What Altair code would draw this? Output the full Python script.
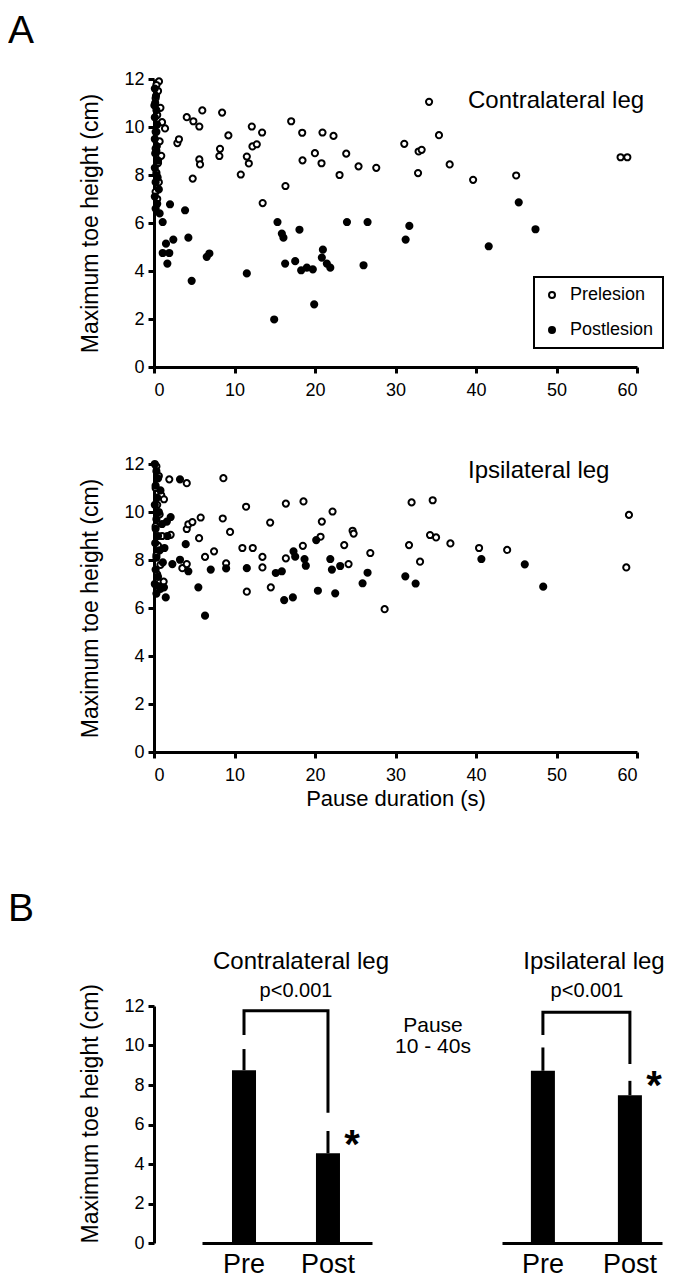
import altair as alt
import pandas as pd

FONT = "Liberation Sans"

# ---------------- Panel A: contralateral leg ----------------
ca_pre_x = [0.62, 0.3, 0.5, 0.2, 0.8, 0.4, 1.0, 0.3, 0.7, 0.2, 0.9, 0.5, 0.3, 0.6, 0.2, 0.4,
            1.37, 2.9, 3.1, 4.07, 4.89, 5.63, 6.0, 8.46, 9.24, 8.2, 8.12, 5.63, 5.72, 4.81,
            10.78, 11.53, 11.78, 12.15, 13.43, 12.23, 12.77, 17.04, 18.41, 20.93, 22.3, 18.45,
            19.99, 20.81, 16.33, 23.05, 13.5, 34.17, 23.88, 25.41, 27.61, 31.09, 32.87, 33.25,
            35.4, 32.8, 36.73, 39.64, 44.99, 57.96, 58.8]
ca_pre_y = [11.9, 11.75, 11.5, 11.2, 10.8, 10.5, 10.2, 9.8, 9.4, 9.1, 8.8, 8.5, 8.1, 7.7, 7.3, 7.0,
            9.94, 9.33, 9.49, 10.41, 10.24, 10.02, 10.69, 10.6, 9.65, 9.09, 8.79, 8.65, 8.44, 7.85,
            8.02, 8.77, 8.48, 10.02, 9.77, 9.19, 9.28, 10.24, 9.76, 9.77, 9.63, 8.61,
            8.91, 8.49, 7.54, 8.0, 6.83, 11.05, 8.89, 8.36, 8.3, 9.3, 8.98, 9.05,
            9.66, 8.08, 8.44, 7.8, 7.98, 8.74, 8.74]
ca_post_x = [0.1, 0.25, 0.15, 0.3, 0.1, 0.4, 0.2, 0.1, 0.35, 0.15, 0.5, 0.1, 0.3, 0.2, 0.6, 0.1,
             0.4, 0.2, 0.7, 0.05, 0.45, 0.3,
             1.99, 3.86, 1.08, 2.4, 1.49, 1.08, 1.9, 1.66, 4.27, 6.55, 6.88, 4.68, 11.53, 15.34,
             15.88, 16.08, 18.07, 16.29, 17.54, 18.28, 18.99, 19.73, 20.98, 20.85, 21.47, 21.9,
             14.93, 19.9, 23.97, 26.53, 31.72, 31.26, 41.58, 45.31, 47.39, 26.03]
ca_post_y = [11.6, 11.3, 11.0, 10.7, 10.4, 10.1, 9.8, 9.5, 9.2, 8.9, 8.6, 8.3, 8.0, 7.7, 7.4, 7.1,
             6.8, 6.6, 6.4, 10.9, 7.9, 9.0,
             6.78, 6.53, 6.04, 5.31, 5.14, 4.75, 4.75, 4.31, 5.39, 4.59, 4.73, 3.59, 3.9, 6.04,
             5.56, 5.39, 5.72, 4.31, 4.41, 4.03, 4.14, 4.07, 4.89, 4.56, 4.31, 4.14,
             1.98, 2.61, 6.04, 6.04, 5.88, 5.31, 5.03, 6.86, 5.74, 4.24]

# ---------------- Panel A: ipsilateral leg ----------------
ia_pre_x = [0.3, 0.6, 0.2, 0.9, 0.4, 0.7, 0.2, 1.0, 0.5, 0.3, 0.8, 0.4, 1.2, 1.24, 1.9,
            4.07, 8.62, 11.44, 16.38, 18.57, 22.18, 2.07, 4.07, 4.27, 4.77, 5.8, 8.54, 9.45,
            5.6, 14.43, 20.85, 18.49, 20.69, 7.46, 6.34, 10.98, 12.27, 13.47, 8.96, 16.38,
            3.52, 4.07, 13.47, 11.53, 14.51, 32.0, 34.62, 24.67, 24.8, 23.63, 26.87, 24.17,
            31.68, 34.29, 35.04, 36.82, 40.38, 43.87, 33.05, 28.65, 59.0, 58.67]
ia_pre_y = [11.9, 11.5, 11.0, 10.7, 10.3, 9.9, 9.4, 9.0, 8.6, 8.2, 7.8, 7.4, 7.1, 10.53, 11.36,
            11.2, 11.41, 10.22, 10.35, 10.44, 10.02, 9.05, 9.29, 9.49, 9.58, 9.77, 9.73, 9.17,
            8.91, 9.56, 9.6, 8.59, 8.97, 8.36, 8.13, 8.5, 8.5, 8.13, 7.86, 8.07,
            7.66, 7.83, 7.69, 6.68, 6.86, 10.4, 10.49, 9.22, 9.1, 8.62, 8.29, 7.83,
            8.62, 9.04, 8.94, 8.69, 8.5, 8.42, 7.93, 5.95, 9.88, 7.69]
ia_post_x = [0.1, 0.3, 0.5, 0.2, 0.8, 0.4, 0.1, 0.6, 0.3, 1.0, 0.2, 0.5, 0.15, 0.7, 0.3, 1.1,
             0.2, 0.5, 0.1, 0.8, 0.3, 0.6, 1.3, 1.6,
             3.23, 2.07, 1.66, 3.94, 3.23, 2.28, 4.27, 7.05, 8.96, 11.53, 15.13, 15.88, 17.33,
             17.54, 18.7, 18.86, 20.15, 21.9, 22.1, 23.13, 22.51, 20.36, 26.53, 25.91, 31.22,
             32.5, 40.67, 46.06, 48.35, 5.51, 1.24, 1.46, 6.34, 16.17, 17.25]
ia_post_y = [12.0, 11.7, 11.4, 11.1, 10.9, 10.6, 10.3, 10.0, 9.7, 9.5, 9.3, 9.0, 8.7, 8.4, 8.1, 7.9,
             7.6, 7.3, 7.0, 6.8, 6.6, 6.9, 8.5, 9.6,
             11.36, 9.79, 9.0, 8.66, 8.01, 7.83, 7.53, 7.6, 7.65, 7.66, 7.46, 7.53, 8.36,
             8.14, 8.04, 7.76, 8.83, 8.04, 7.6, 7.75, 6.61, 6.72, 7.47, 7.03, 7.32,
             7.02, 8.04, 7.82, 6.89, 6.86, 6.86, 6.44, 5.68, 6.33, 6.44]

# ---------------- Panel B: pause 10 - 40 s ----------------
conds = ["Pre", "Post"]
c_mean = [8.75, 4.54]
c_err = [1.07, 1.13]
i_mean = [8.72, 7.48]
i_err = [1.18, 0.73]
c_bracket = [11.76, 10.53, 6.6]   # top, end of Pre leg, end of Post leg
i_bracket = [11.68, 10.53, 9.06]
c_star = 5.42
i_star = 8.38

x_ticks = [0, 10, 20, 30, 40, 50, 60]
y_ticks = [0, 2, 4, 6, 8, 10, 12]
groups = ["Prelesion", "Postlesion"]
y_title = "Maximum toe height (cm)"


def label(text, x, y, size, align="left", baseline="alphabetic", weight="normal"):
    return alt.Chart(pd.DataFrame({"t": [text]})).mark_text(
        align=align, baseline=baseline, fontSize=size, font=FONT,
        fontWeight=weight, color="black"
    ).encode(text="t:N", x=alt.value(x), y=alt.value(y))


def vspacer(x, y1, y2):
    return alt.Chart(pd.DataFrame({"s": [0]})).mark_rule(opacity=0, strokeWidth=1).encode(
        x=alt.value(x), y=alt.value(y1), y2=alt.value(y2))


def hspacer(x1, x2, y):
    return alt.Chart(pd.DataFrame({"s": [0]})).mark_rule(opacity=0, strokeWidth=1).encode(
        x=alt.value(x1), x2=alt.value(x2), y=alt.value(y))


def scatter(pre_x, pre_y, post_x, post_y, leg_name, text_y, with_legend, x_title, top, bottom):
    assert len(pre_x) == len(pre_y) and len(post_x) == len(post_y)
    df = pd.DataFrame({
        "pause": pre_x + post_x,
        "height": pre_y + post_y,
        "group": [groups[0]] * len(pre_x) + [groups[1]] * len(post_x),
    })
    if x_title:
        xaxis = alt.Axis(values=x_ticks, title=x_title, titlePadding=4)
    else:
        xaxis = alt.Axis(values=x_ticks, title=None)
    if with_legend:
        leg = alt.Legend(title=None, orient="none", legendX=380, legendY=198,
                         strokeColor="black", padding=9, labelFontSize=18, labelFont=FONT,
                         labelColor="black", symbolSize=36, symbolStrokeColor="black",
                         symbolStrokeWidth=2, symbolType="circle", rowPadding=17,
                         labelOffset=9)
    else:
        leg = None
    pts = alt.Chart(df).mark_point(
        filled=True, size=38, stroke="black", strokeWidth=2, opacity=1
    ).encode(
        x=alt.X("pause:Q", scale=alt.Scale(domain=[0, 60], nice=False), axis=xaxis),
        y=alt.Y("height:Q", scale=alt.Scale(domain=[0, 12], nice=False),
                axis=alt.Axis(values=y_ticks, title=y_title, titlePadding=21)),
        fill=alt.Fill("group:N", scale=alt.Scale(domain=groups, range=["white", "black"]),
                      legend=leg),
    )
    layers = [pts, label(leg_name, 314, text_y, 24), vspacer(-146, top, bottom)]
    return layers


top_layers = scatter(ca_pre_x, ca_pre_y, ca_post_x, ca_post_y, "Contralateral leg", 29,
                     True, None, -71, 339)
top_layers.append(label("A", -146, -67, 39, baseline="top"))
top_panel = alt.layer(*top_layers).properties(width=483, height=288)

bottom_layers = scatter(ia_pre_x, ia_pre_y, ia_post_x, ia_post_y, "Ipsilateral leg", 14,
                        False, "Pause duration (s)", -46, 412)
bottom_panel = alt.layer(*bottom_layers).properties(width=483, height=288)


def bars(mean, err, bracket, star_y, name, p_x, name_x, width, pin, pout, palign,
         left_axis, dash):
    df = pd.DataFrame({"cond": conds, "val": mean,
                       "top": [m + e for m, e in zip(mean, err)]})
    xenc = alt.X("cond:N", sort=conds,
                 scale=alt.Scale(paddingInner=pin, paddingOuter=pout, align=palign),
                 axis=alt.Axis(title=None, labelAngle=0, ticks=False, labelFontSize=27,
                               labelPadding=8, domainDash=dash))
    if left_axis:
        yax = alt.Axis(values=y_ticks, title=y_title, titlePadding=21, titleAnchor="start")
    else:
        yax = None
    yenc = alt.Y("val:Q", scale=alt.Scale(domain=[0, 12], nice=False), axis=yax)
    errs = alt.Chart(df).mark_rule(color="black", strokeWidth=3).encode(
        x=xenc, y=yenc, y2="top:Q")
    bar = alt.Chart(df).mark_bar(color="black").encode(x=xenc, y=yenc)
    bdf = pd.DataFrame({"cond": ["Pre", "Pre", "Post", "Post"],
                        "val": [bracket[1], bracket[0], bracket[0], bracket[2]],
                        "i": [0, 1, 2, 3]})
    brk = alt.Chart(bdf).mark_line(color="black", strokeWidth=3, strokeJoin="miter",
                                   strokeCap="butt").encode(x=xenc, y=yenc, order="i:Q")
    sdf = pd.DataFrame({"cond": ["Post"], "val": [star_y], "t": ["*"]})
    star = alt.Chart(sdf).mark_text(fontSize=40, fontWeight="bold", font=FONT, color="black",
                                    dx=24, dy=22, baseline="alphabetic").encode(
        x=xenc, y=yenc, text="t:N")
    layers = [errs, bar, brk, star,
              label(name, name_x, -37, 24, align="center"),
              label("p<0.001", p_x, -9, 20, align="center")]
    return layers


# contralateral panel: plot starts at the y axis; the baseline is drawn from 48 px on
c_layers = bars(c_mean, c_err, c_bracket, c_star, "Contralateral leg", 142, 147, 218,
                0.714, 0.655, 0.709, True, [0, 48, 170, 400])
c_layers += [label("B", -146, -116, 39, baseline="top"),
             label("Pause", 279, 26, 21, align="center"),
             label("10 - 40s", 279, 47, 21, align="center"),
             vspacer(-146, -130, 270), hspacer(-146, 330, -130)]
bar_c = alt.layer(*c_layers).properties(width=218, height=237)

i_layers = bars(i_mean, i_err, i_bracket, i_star, "Ipsilateral leg", 85, 92, 160,
                0.724, 0.2816, 0.59, False, [400, 0])
i_layers += [vspacer(-18, -130, 265)]
bar_i = alt.layer(*i_layers).properties(width=160, height=237)

row_b = alt.hconcat(bar_c, bar_i, spacing=0)

chart = alt.vconcat(top_panel, bottom_panel, row_b, spacing=0).properties(
    padding=0
).configure_view(stroke=None).configure_axis(
    grid=False, domainColor="black", domainWidth=3, tickColor="black", tickWidth=3,
    tickSize=6, labelColor="black", labelFont=FONT, labelFontSize=18, labelPadding=4,
    titleColor="black", titleFont=FONT, titleFontSize=23, titleFontWeight="normal"
).configure_axisX(labelPadding=8, titleFontSize=22).configure_legend(strokeWidth=2)

chart.save("out.html", embed_options={"renderer": "svg", "actions": False})
